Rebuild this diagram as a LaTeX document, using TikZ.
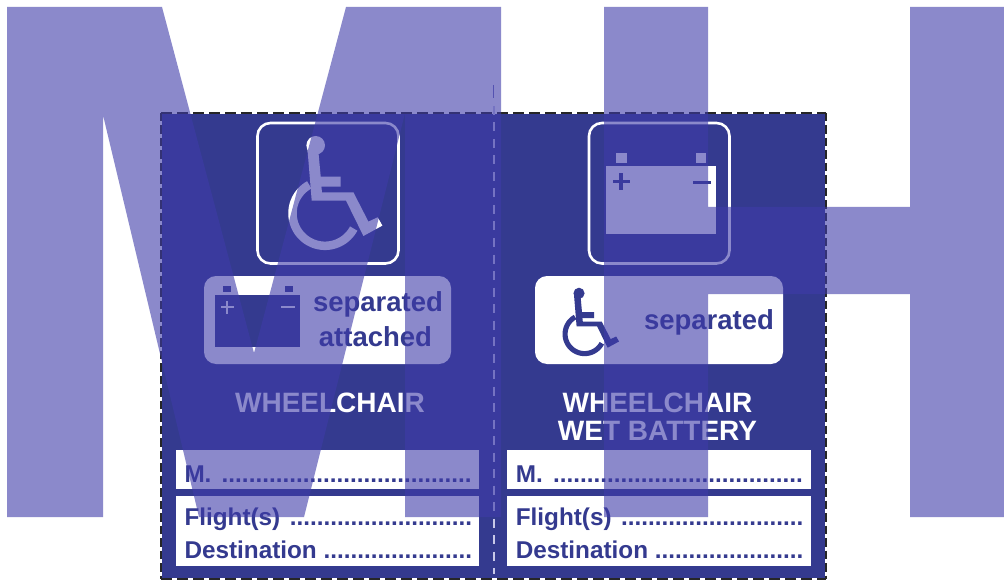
\documentclass[tikz,border=0pt]{standalone}
\usepackage{fontspec}
\setmainfont{Liberation Sans}
\definecolor{labelblue}{RGB}{52,58,143}
\definecolor{wash}{RGB}{62,59,169}
\definecolor{ticktone}{RGB}{118,118,190}
\definecolor{foldtone}{RGB}{200,200,232}
\newcommand{\wheelicon}[4]{%
  \begin{scope}[shift={(#1,#2)},scale=#3]
    \fill[#4] (0,0) circle[radius=9.3];
    \fill[#4] (-8.3,3) -- (-4,55.3) -- (30.3,55.3) -- (47.7,90.7) -- (66.7,80.3) -- (62,72) -- (52.7,76.3) -- (37.7,47) -- (6.3,47) -- (5.7,41.3) -- (25,41.3) -- (25,31.3) -- (5,31.3) -- (2.7,6.3) -- cycle;
    \draw[#4,line width=#3*8.5pt] plot[domain=119:332,samples=50] ({9.3+32.5*cos(\x)},{68-32.5*sin(\x)});
  \end{scope}}
\tikzset{
  lab/.style={font=\fontsize{28}{28}\bfseries\selectfont,inner sep=0pt,anchor=base,text=white},
  inbox/.style={font=\fontsize{27.5}{28}\bfseries\selectfont,inner sep=0pt,anchor=base,text=labelblue},
  formtxt/.style={font=\fontsize{24.3}{28}\bfseries\selectfont,inner sep=0pt,anchor=base west,text=labelblue},
  frameicon/.style={draw=white,line width=2.6pt,rounded corners=13pt},
  whitebox/.style={fill=white,rounded corners=12pt},
  whiterect/.style={fill=white},
  edgeh/.style={draw=black!85,line width=2pt,dash pattern=on 11pt off 5pt},
  edgev/.style={draw=black!85,line width=2pt,dash pattern=on 8.5pt off 4pt},
  fold/.style={draw=foldtone,line width=1.6pt,dash pattern=on 9pt off 7.5pt}
}
\begin{document}
\begin{tikzpicture}[x=1pt,y=-1pt]
\useasboundingbox (0,0) rectangle (1004,580);
\fill[white] (0,0) rectangle (1004,580);
% label
\fill[labelblue] (162,114) rectangle (825,578);
\draw[edgeh] (161,113) -- (826,113);
\draw[edgeh] (161,579) -- (826,579);
\draw[edgev] (161,113) -- (161,579);
\draw[edgev] (826,113) -- (826,579);
\draw[fold] (493.7,106) -- (493.7,574);
\draw[ticktone,line width=1pt] (493.5,85) -- (493.5,98);
% left panel
\draw[frameicon] (257.5,123) rectangle (398.5,263.5);
\wheelicon{315.7}{145.3}{1}{white}
\fill[whitebox] (204,276) rectangle (451,364);
\fill[labelblue] (215.3,295) rectangle (300,347.3);
\fill[labelblue] (223,285.7) rectangle (231,291.7);
\fill[labelblue] (284.7,285.7) rectangle (292.7,291.7);
\fill[white] (220.5,306.3) rectangle (234,308.3);
\fill[white] (226.3,300.5) rectangle (228.3,314);
\fill[white] (281.3,306.3) rectangle (295.3,308.3);
\node[inbox] (sepl) at (378,311) {separated};
\node[inbox] (attl) at (375.5,346) {attached};
\node[lab] (wcl) at (330,412.7) {WHEELCHAIR};
\fill[whiterect] (176,450.3) rectangle (479,489.3);
\fill[whiterect] (176,495.7) rectangle (479,566);
\node[formtxt] (ml) at (184.3,482) {M.\kern3.5pt{} .....................................};
\node[formtxt] (fl) at (184.3,525.5) {Flight(s)\kern2.7pt{} ...........................};
\node[formtxt] (dl) at (184.3,558) {Destination ......................};
% right panel
\draw[frameicon] (589,123) rectangle (729.5,263.5);
\fill[white] (605.7,166) rectangle (715.7,234.3);
\fill[white] (616,153.3) rectangle (626.7,162.7);
\fill[white] (696,153.3) rectangle (706,162.7);
\fill[labelblue] (612.5,180) rectangle (629.5,183.2);
\fill[labelblue] (619.4,173) rectangle (622.6,190.5);
\fill[labelblue] (692.5,180.8) rectangle (710.5,184);
\fill[whitebox] (535,276) rectangle (783,364);
\wheelicon{579}{293.3}{0.6}{labelblue}
\node[inbox] (sepr) at (709,329) {separated};
\node[lab] (wcr) at (657.5,412.7) {WHEELCHAIR};
\node[lab] (wbr) at (657.5,440.7) {WET BATTERY};
\fill[whiterect] (507.3,450.3) rectangle (810.7,489.3);
\fill[whiterect] (507.3,495.7) rectangle (810.7,566);
\node[formtxt] (mr) at (515.6,482) {M.\kern3.5pt{} .....................................};
\node[formtxt] (fr) at (515.6,525.5) {Flight(s)\kern2.7pt{} ...........................};
\node[formtxt] (dr) at (515.6,558) {Destination ......................};
% wash letters
\fill[wash,opacity=0.6]
  (7,7) -- (162,7) -- (254,353) -- (346,7) -- (501,7) -- (501,517) -- (405,517) -- (405,113) -- (304,517) -- (199,517) -- (103,115) -- (103,517) -- (7,517) -- cycle
  (604,7) -- (708,7) -- (708,207) -- (910,207) -- (910,7) -- (1004,7) -- (1004,517) -- (910,517) -- (910,294) -- (708,294) -- (708,517) -- (604,517) -- cycle;
\end{tikzpicture}
\end{document}
